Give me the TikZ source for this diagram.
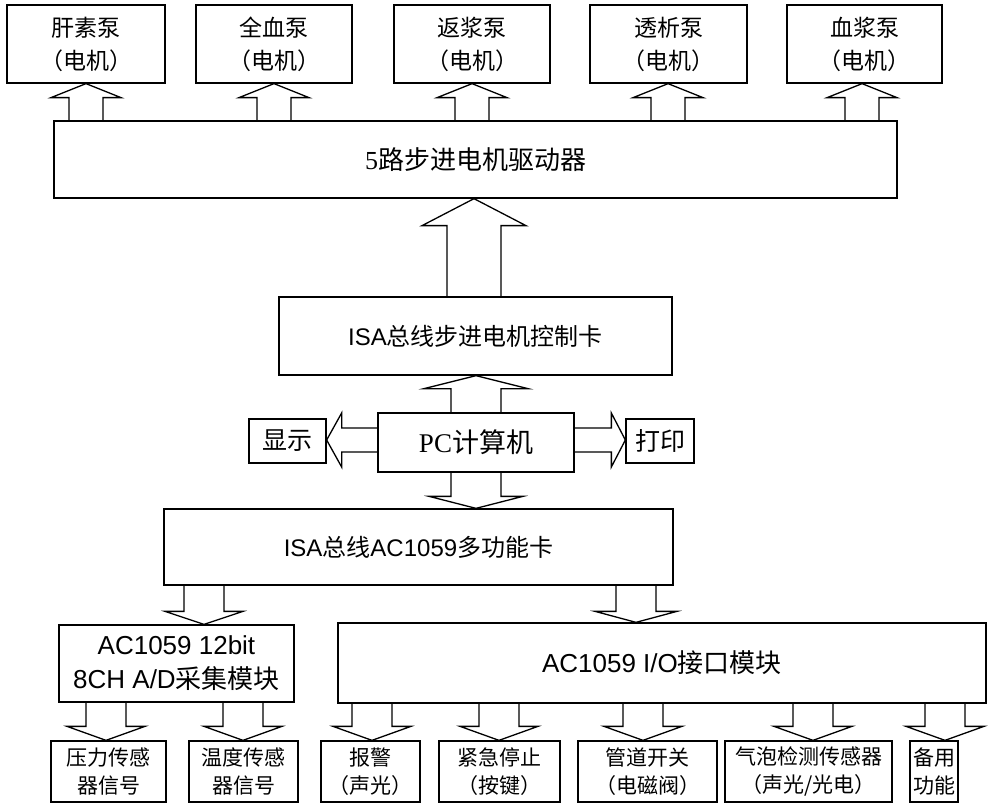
\documentclass[tikz,border=0pt]{standalone}
\usepackage{fontspec}
\setmainfont{Liberation Sans}
\newfontfamily\cjk{Noto Sans CJK SC}
\newfontfamily\tms{Liberation Serif}
\usetikzlibrary{calc}

\tikzset{
  box/.style={draw, line width=1.3pt, rectangle, inner sep=1pt, align=center},
  barrow/.style={draw, line width=1.3pt, line join=miter},
  topf/.style={font=\cjk\fontsize{23}{33}\selectfont},
  midf/.style={font=\fontsize{24}{30}\selectfont},
  botf/.style={font=\cjk\fontsize{21}{28}\selectfont},
}
% vertical block arrows: #1 x centre, #2 start anchor, #3 tip anchor, #4 head half width, #5 shaft half width, #6 head length
\newcommand\arrUp[6]{\draw[barrow] let \p1=(#2), \p2=(#3) in
  (#1-#5,\y1) -- (#1-#5,\y2-#6pt) -- (#1-#4,\y2-#6pt) -- (#1,\y2) -- (#1+#4,\y2-#6pt) -- (#1+#5,\y2-#6pt) -- (#1+#5,\y1);}
\newcommand\arrDown[6]{\draw[barrow] let \p1=(#2), \p2=(#3) in
  (#1-#5,\y1) -- (#1-#5,\y2+#6pt) -- (#1-#4,\y2+#6pt) -- (#1,\y2) -- (#1+#4,\y2+#6pt) -- (#1+#5,\y2+#6pt) -- (#1+#5,\y1);}
% horizontal: #1 y centre
\newcommand\arrLeft[6]{\draw[barrow] let \p1=(#2), \p2=(#3) in
  (\x1,#1-#5) -- (\x2+#6pt,#1-#5) -- (\x2+#6pt,#1-#4) -- (\x2,#1) -- (\x2+#6pt,#1+#4) -- (\x2+#6pt,#1+#5) -- (\x1,#1+#5);}
\newcommand\arrRight[6]{\draw[barrow] let \p1=(#2), \p2=(#3) in
  (\x1,#1-#5) -- (\x2-#6pt,#1-#5) -- (\x2-#6pt,#1-#4) -- (\x2,#1) -- (\x2-#6pt,#1+#4) -- (\x2-#6pt,#1+#5) -- (\x1,#1+#5);}

\begin{document}
\begin{tikzpicture}[x=1pt,y=-1pt]
\useasboundingbox (0,0) rectangle (988,805);

% top pumps
\node[box, topf, minimum width=158pt, minimum height=78pt] (b1) at (86,44) {肝素泵\\（电机）};
\node[box, topf, minimum width=156pt, minimum height=78pt] (b2) at (274,44) {全血泵\\（电机）};
\node[box, topf, minimum width=156pt, minimum height=78pt] (b3) at (472,44) {返浆泵\\（电机）};
\node[box, topf, minimum width=157pt, minimum height=78pt] (b4) at (668.5,44) {透析泵\\（电机）};
\node[box, topf, minimum width=155pt, minimum height=78pt] (b5) at (864.5,44) {血浆泵\\（电机）};

% driver
\node[box, font=\fontsize{26}{30}\selectfont, minimum width=843pt, minimum height=77pt] (drv) at (475.5,159.5) {{\tms 5}{\cjk 路步进电机驱动器}};

% control card
\node[box, midf, minimum width=393pt, minimum height=78pt] (ctl) at (475.5,336) {ISA{\cjk 总线步进电机控制卡}};

% PC row
\node[box, font=\fontsize{27}{30}\selectfont, minimum width=196pt, minimum height=59pt] (pc) at (476,442.5) {{\tms PC}{\cjk 计算机}};
\node[box, font=\cjk\fontsize{25}{30}\selectfont, minimum width=77pt, minimum height=44pt] (disp) at (287.5,441) {显示};
\node[box, font=\cjk\fontsize{25}{30}\selectfont, minimum width=68pt, minimum height=44pt] (prt) at (660,441) {打印};

% multifunction card
\node[box, midf, minimum width=509pt, minimum height=76pt] (mf) at (418.5,547) {ISA{\cjk 总线}AC1059{\cjk 多功能卡}};

% modules
\node[box, font=\fontsize{26}{34}\selectfont, minimum width=235pt, minimum height=77pt] (ad) at (176.5,663.5) {AC1059 12bit\\8CH A/D{\cjk 采集模块}};
\node[box, font=\fontsize{26}{30}\selectfont, minimum width=648pt, minimum height=80pt] (io) at (662,663) {AC1059 I/O{\cjk 接口模块}};

% bottom boxes
\node[box, botf, minimum width=115pt, minimum height=61pt] (s1) at (108.5,771.5) {压力传感\\器信号};
\node[box, botf, minimum width=109pt, minimum height=61pt] (s2) at (243.5,771.5) {温度传感\\器信号};
\node[box, botf, minimum width=99pt, minimum height=61pt] (s3) at (370.5,771.5) {报警\\（声光）};
\node[box, botf, minimum width=121pt, minimum height=61pt] (s4) at (499.5,771.5) {紧急停止\\（按键）};
\node[box, botf, minimum width=139pt, minimum height=61pt] (s5) at (647.5,771.5) {管道开关\\（电磁阀）};
\node[box, botf, minimum width=167pt, minimum height=61pt] (s6) at (808.5,771.5) {气泡检测传感器\\（声光/光电）};
\node[box, botf, minimum width=48pt, minimum height=61pt] (s7) at (934,771.5) {备用\\功能};

% arrows: driver -> pumps
\arrUp{86}{drv.north}{b1.south}{35}{17}{14}
\arrUp{274}{drv.north}{b2.south}{35}{17}{14}
\arrUp{472}{drv.north}{b3.south}{35}{17}{14}
\arrUp{668}{drv.north}{b4.south}{35}{17}{14}
\arrUp{862}{drv.north}{b5.south}{35}{17}{14}

% control -> driver
\arrUp{474}{ctl.north}{drv.south}{52}{27}{27}
% PC -> control
\arrUp{476}{pc.north}{ctl.south}{52}{25}{13}
% PC -> display / print
\arrLeft{440}{pc.west}{disp.east}{27}{12}{15}
\arrRight{440}{pc.east}{prt.west}{27}{12}{14}
% PC -> multifunction card
\arrDown{476}{pc.south}{mf.north}{47}{25}{12}
% multifunction -> modules
\arrDown{204}{mf.south}{ad.north}{39}{20}{13}
\arrDown{636}{mf.south}{io.north}{41}{20}{11}
% modules -> bottom
\arrDown{106}{ad.south}{s1.north}{39}{20}{14}
\arrDown{243}{ad.south}{s2.north}{39}{20}{14}
\arrDown{372}{io.south}{s3.north}{39}{20}{14}
\arrDown{499}{io.south}{s4.north}{39}{20}{14}
\arrDown{643}{io.south}{s5.north}{39}{20}{14}
\arrDown{813}{io.south}{s6.north}{39}{20}{14}
\arrDown{945}{io.south}{s7.north}{39}{20}{14}
\end{tikzpicture}
\end{document}
